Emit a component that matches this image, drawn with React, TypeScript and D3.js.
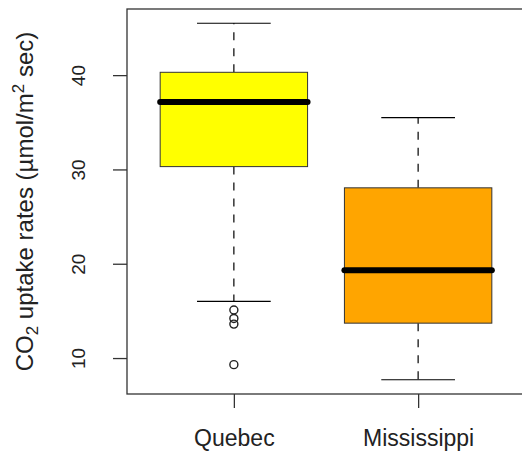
import { useRef, useEffect } from "react";
import * as d3 from "d3";

// Five-number summaries
const CATEGORIES = ["Quebec", "Mississippi"];
const FILLS = ["#FFFF00", "#FFA500"];
const WHISKER_LOW = [16.0, 7.7];
const Q1 = [30.3, 13.7];
const MEDIAN = [37.15, 19.3];
const Q3 = [40.3, 28.05];
const WHISKER_HIGH = [45.5, 35.5];
const OUTLIERS = [[15.1, 14.2, 13.6, 9.3], []];
const Y_TICKS = [10, 20, 30, 40];

const W = 522;
const H = 457;

export default function App() {
  const svgRef = useRef<SVGSVGElement>(null);

  useEffect(() => {
    if (!svgRef.current) return;
    const svg = d3.select(svgRef.current);
    svg.selectAll("*").remove();

    const left = 127, right = 525, top = 9, bottom = 394;
    const font = "'Liberation Sans', Arial, sans-serif";

    // R-style domains: positions 1..n with 0.5 padding, extended 4%
    const x = d3.scaleLinear().domain([0.42, 2.58]).range([left, right]);
    const y = d3.scaleLinear().domain([6.188, 47.012]).range([bottom, top]);

    const boxW = x(1.8) - x(1);
    const capW = boxW / 2;

    const boxes = CATEGORIES.map((c, i) => ({
      c, i, pos: i + 1,
      lo: WHISKER_LOW[i], q1: Q1[i], med: MEDIAN[i], q3: Q3[i], hi: WHISKER_HIGH[i],
      out: OUTLIERS[i],
    }));

    const g = svg.append("g");

    boxes.forEach((b) => {
      const cx = x(b.pos);
      // dashed whiskers
      [[b.q3, b.hi], [b.q1, b.lo]].forEach(([a, e]) => {
        g.append("line")
          .attr("x1", cx).attr("x2", cx)
          .attr("y1", y(a)).attr("y2", y(e))
          .attr("stroke", "#000").attr("stroke-width", 1.2)
          .attr("stroke-dasharray", "8,8");
      });
      [b.hi, b.lo].forEach((v) => {
        g.append("line")
          .attr("x1", cx - capW / 2).attr("x2", cx + capW / 2)
          .attr("y1", y(v)).attr("y2", y(v))
          .attr("stroke", "#000").attr("stroke-width", 1.2);
      });
      g.append("rect")
        .attr("x", cx - boxW / 2).attr("width", boxW)
        .attr("y", y(b.q3)).attr("height", y(b.q1) - y(b.q3))
        .attr("fill", FILLS[b.i]).attr("stroke", "#333").attr("stroke-width", 1);
      g.append("line")
        .attr("x1", cx - boxW / 2).attr("x2", cx + boxW / 2)
        .attr("y1", y(b.med)).attr("y2", y(b.med))
        .attr("stroke", "#000").attr("stroke-width", 6)
        .attr("stroke-linecap", "round");
      b.out.forEach((v) => {
        g.append("circle")
          .attr("cx", cx).attr("cy", y(v)).attr("r", 4)
          .attr("fill", "none").attr("stroke", "#222").attr("stroke-width", 1.4);
      });
    });

    // frame
    svg.append("rect")
      .attr("x", left).attr("y", top)
      .attr("width", right - left).attr("height", bottom - top)
      .attr("fill", "none").attr("stroke", "#333").attr("stroke-width", 1.3);

    // y axis
    const ya = svg.append("g").attr("transform", `translate(${left},0)`)
      .call(d3.axisLeft(y).tickValues(Y_TICKS).tickSize(14).tickPadding(0).tickFormat((d) => String(d)));
    ya.select(".domain").remove();
    ya.selectAll(".tick line").attr("stroke", "#333").attr("stroke-width", 1.3);
    ya.selectAll(".tick text")
      .attr("x", null).attr("dy", null)
      .attr("transform", "translate(-42,0) rotate(-90)")
      .attr("text-anchor", "middle")
      .attr("font-family", font).attr("font-size", 19).attr("fill", "#222");

    // x axis
    const xa = svg.append("g").attr("transform", `translate(0,${bottom})`)
      .call(d3.axisBottom(x).tickValues([1, 2]).tickSize(14).tickPadding(0)
        .tickFormat((d) => CATEGORIES[(d as number) - 1]));
    xa.select(".domain").remove();
    xa.selectAll(".tick line").attr("stroke", "#333").attr("stroke-width", 1.3);
    xa.selectAll(".tick text")
      .attr("y", 52).attr("dy", null)
      .attr("font-family", font).attr("font-size", 23).attr("fill", "#222");

    // y title
    const t = svg.append("text")
      .attr("transform", `translate(33,${(top + bottom) / 2}) rotate(-90)`)
      .attr("text-anchor", "middle")
      .attr("font-family", font).attr("font-size", 24).attr("fill", "#222");
    t.append("tspan").text("CO");
    t.append("tspan").attr("dy", 5).attr("font-size", 17).text("2");
    t.append("tspan").attr("dy", -5).text(" uptake rates (µmol/m");
    t.append("tspan").attr("dy", -9).attr("font-size", 17).text("2");
    t.append("tspan").attr("dy", 9).text(" sec)");
  }, []);

  return (
    <svg
      ref={svgRef}
      width={W}
      height={H}
      style={{ position: "absolute", left: 0, top: 0, background: "#fff", display: "block" }}
    />
  );
}
